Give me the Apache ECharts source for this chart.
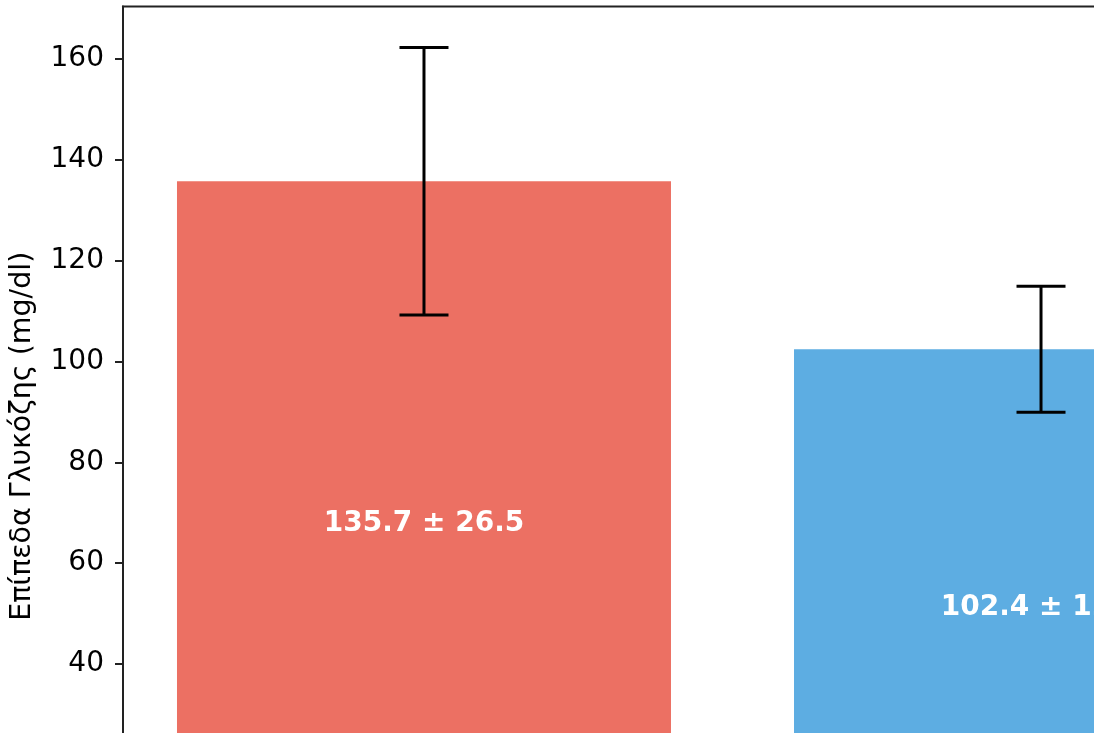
<!DOCTYPE html>
<html>
<head>
<meta charset="utf-8">
<script src="https://cdn.jsdelivr.net/npm/echarts@6/dist/echarts.min.js"></script>
<style>
  html, body { margin: 0; padding: 0; overflow: hidden; background: #ffffff; }
  #chart { width: 1400px; height: 880px; }
</style>
</head>
<body>
<div id="chart"></div>
<script>
// Glucose levels per group: mean and standard deviation
const categories = ['Διαβητικοί', 'Μη Διαβητικοί'];
const means = [135.7, 102.4];
const stdDevs = [26.5, 12.5];
const barColors = ['#EC7063', '#5DADE2'];
const yTicks = [0, 20, 40, 60, 80, 100, 120, 140, 160];
const yAxisTitle = 'Επίπεδα Γλυκόζης (mg/dl)';

const FONT = 'DejaVu Sans';
const AXIS_COLOR = '#222222';

// Upper y limit: tallest error bar plus a 5% margin
const yMax = Math.max(...means.map((m, i) => m + stdDevs[i])) * 1.05;

const chart = echarts.init(document.getElementById('chart'), null, { renderer: 'canvas' });

const barData = means.map((m, i) => ({
  value: [i, m],
  itemStyle: { color: barColors[i] }
}));

const errData = means.map((m, i) => [i, m - stdDevs[i], m + stdDevs[i]]);

chart.setOption({
  animation: false,
  backgroundColor: '#ffffff',
  grid: {
    left: 123,
    top: 6.5,
    width: 1219,
    height: 859.5,
    outerBoundsMode: 'none',
    containLabel: false,
    show: true,
    borderColor: AXIS_COLOR,
    borderWidth: 2,
    backgroundColor: 'transparent'
  },
  xAxis: {
    type: 'value',
    min: -0.4878,
    max: 1.4878,
    splitLine: { show: false },
    axisLine: { show: true, onZero: false, lineStyle: { color: AXIS_COLOR, width: 2 } },
    axisTick: { show: true, customValues: categories.map((c, i) => i), length: 8, lineStyle: { color: AXIS_COLOR, width: 2 } },
    axisLabel: {
      customValues: categories.map((c, i) => i),
      formatter: v => categories[Math.round(v)] || '',
      fontFamily: FONT, fontSize: 28, color: '#000'
    }
  },
  yAxis: {
    type: 'value',
    min: 0,
    max: yMax,
    splitLine: { show: false },
    axisLine: { show: true, onZero: false, lineStyle: { color: AXIS_COLOR, width: 2 } },
    axisTick: {
      show: true,
      customValues: yTicks,
      length: 8,
      lineStyle: { color: AXIS_COLOR, width: 2 }
    },
    axisLabel: {
      customValues: yTicks,
      margin: 19,
      fontFamily: FONT,
      fontSize: 28,
      color: '#000'
    },
    name: yAxisTitle,
    nameLocation: 'middle',
    nameGap: 86,
    nameTextStyle: { fontFamily: FONT, fontSize: 28.5, color: '#000' }
  },
  series: [
    {
      type: 'bar',
      data: barData,
      barWidth: 494,
      z: 2,
      label: {
        show: true,
        position: 'inside',
        formatter: p => means[p.dataIndex].toFixed(1) + ' ± ' + stdDevs[p.dataIndex].toFixed(1),
        fontFamily: FONT,
        fontWeight: 'bold',
        fontSize: 28,
        color: '#ffffff'
      }
    },
    {
      type: 'custom',
      z: 5,
      data: errData,
      renderItem: function (params, api) {
        const x = api.value(0);
        const lo = api.coord([x, api.value(1)]);
        const hi = api.coord([x, api.value(2)]);
        const cap = 24.5;
        const style = { stroke: '#000000', lineWidth: 3 };
        return {
          type: 'group',
          children: [
            { type: 'line', shape: { x1: hi[0], y1: hi[1], x2: lo[0], y2: lo[1] }, style: style },
            { type: 'line', shape: { x1: hi[0] - cap, y1: hi[1], x2: hi[0] + cap, y2: hi[1] }, style: style },
            { type: 'line', shape: { x1: lo[0] - cap, y1: lo[1], x2: lo[0] + cap, y2: lo[1] }, style: style }
          ]
        };
      }
    }
  ]
});
</script>
</body>
</html>
